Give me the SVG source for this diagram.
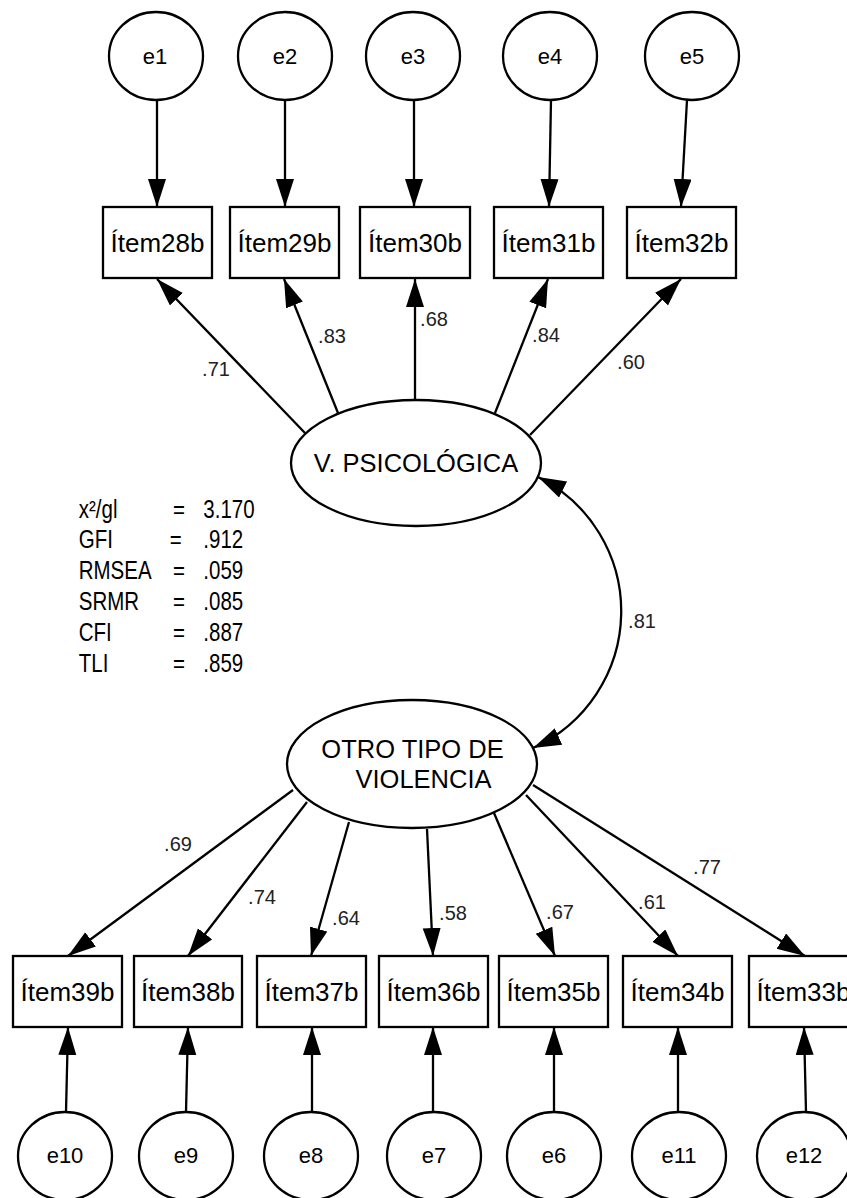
<svg xmlns="http://www.w3.org/2000/svg" width="847" height="1198" viewBox="0 0 847 1198">
<style>
.shape{fill:#fff;stroke:#000;stroke-width:2.3}
.conn{fill:none;stroke:#000;stroke-width:2.3}
.t{font-family:"Liberation Sans",Arial,sans-serif;fill:#000;text-anchor:middle}
.e{font-size:22px}
.item{font-size:26px}
.lat{font-size:25.5px}
.lbl{font-family:"Liberation Sans",Arial,sans-serif;font-size:20px;fill:#222;text-anchor:middle}
.fit{font-family:"Liberation Sans",Arial,sans-serif;font-size:25px;fill:#000}
</style>
<defs>
<marker id="arr" markerUnits="userSpaceOnUse" markerWidth="30" markerHeight="20" refX="28" refY="9" orient="auto-start-reverse" viewBox="0 0 30 20">
<path d="M0,0 L28,9 L0,18 z" fill="#000"/>
</marker>
</defs>
<rect width="847" height="1198" fill="#fff"/>

<g id="connectors">
<line class="conn" x1="157" y1="100" x2="157" y2="207" marker-end="url(#arr)"/>
<line class="conn" x1="285" y1="100" x2="285" y2="207" marker-end="url(#arr)"/>
<line class="conn" x1="414" y1="100" x2="414" y2="207" marker-end="url(#arr)"/>
<line class="conn" x1="551" y1="100" x2="549" y2="207" marker-end="url(#arr)"/>
<line class="conn" x1="687" y1="100" x2="681" y2="207" marker-end="url(#arr)"/>
<line class="conn" x1="305" y1="433" x2="157" y2="279" marker-end="url(#arr)"/>
<line class="conn" x1="338" y1="413" x2="284" y2="279" marker-end="url(#arr)"/>
<line class="conn" x1="415" y1="399" x2="415" y2="279" marker-end="url(#arr)"/>
<line class="conn" x1="495" y1="413" x2="548" y2="279" marker-end="url(#arr)"/>
<line class="conn" x1="530" y1="435" x2="681" y2="279" marker-end="url(#arr)"/>
<path class="conn" d="M538,477 A150,150 0 0 1 533,748" marker-start="url(#arr)" marker-end="url(#arr)"/>
<line class="conn" x1="293" y1="790" x2="68" y2="956" marker-end="url(#arr)"/>
<line class="conn" x1="307" y1="802" x2="188" y2="956" marker-end="url(#arr)"/>
<line class="conn" x1="349" y1="822" x2="311" y2="956" marker-end="url(#arr)"/>
<line class="conn" x1="427" y1="829" x2="433" y2="956" marker-end="url(#arr)"/>
<line class="conn" x1="494" y1="813" x2="555" y2="956" marker-end="url(#arr)"/>
<line class="conn" x1="526" y1="795" x2="678" y2="956" marker-end="url(#arr)"/>
<line class="conn" x1="533" y1="785" x2="805" y2="956" marker-end="url(#arr)"/>
<line class="conn" x1="66" y1="1112" x2="68" y2="1027" marker-end="url(#arr)"/>
<line class="conn" x1="186" y1="1112" x2="188" y2="1027" marker-end="url(#arr)"/>
<line class="conn" x1="312" y1="1112" x2="312" y2="1027" marker-end="url(#arr)"/>
<line class="conn" x1="433" y1="1112" x2="433" y2="1027" marker-end="url(#arr)"/>
<line class="conn" x1="554" y1="1112" x2="554" y2="1027" marker-end="url(#arr)"/>
<line class="conn" x1="678" y1="1112" x2="678" y2="1027" marker-end="url(#arr)"/>
<line class="conn" x1="806" y1="1112" x2="804" y2="1027" marker-end="url(#arr)"/>
<text class="lbl" x="216" y="376">.71</text>
<text class="lbl" x="332" y="343">.83</text>
<text class="lbl" x="434" y="326">.68</text>
<text class="lbl" x="546" y="342">.84</text>
<text class="lbl" x="631" y="369">.60</text>
<text class="lbl" x="642" y="628">.81</text>
<text class="lbl" x="178" y="851">.69</text>
<text class="lbl" x="262" y="904">.74</text>
<text class="lbl" x="346" y="925">.64</text>
<text class="lbl" x="453" y="920">.58</text>
<text class="lbl" x="560" y="919">.67</text>
<text class="lbl" x="652" y="909">.61</text>
<text class="lbl" x="707" y="874">.77</text>
</g>

<g id="e1"><ellipse class="shape" cx="156" cy="56" rx="47" ry="44"/><text class="t e" x="155" y="64">e1</text></g>
<g id="e2"><ellipse class="shape" cx="285" cy="56" rx="47" ry="44"/><text class="t e" x="285" y="64">e2</text></g>
<g id="e3"><ellipse class="shape" cx="413" cy="56" rx="47" ry="44"/><text class="t e" x="413" y="64">e3</text></g>
<g id="e4"><ellipse class="shape" cx="550" cy="56" rx="47" ry="44"/><text class="t e" x="550" y="64">e4</text></g>
<g id="e5"><ellipse class="shape" cx="692" cy="56" rx="47" ry="44"/><text class="t e" x="692" y="64">e5</text></g>

<g id="item28b"><rect class="shape" x="103" y="207" width="109" height="71"/><text class="t item" x="157.5" y="252">Ítem28b</text></g>
<g id="item29b"><rect class="shape" x="230" y="207" width="109" height="71"/><text class="t item" x="284.5" y="252">Ítem29b</text></g>
<g id="item30b"><rect class="shape" x="360" y="207" width="110" height="71"/><text class="t item" x="415" y="252">Ítem30b</text></g>
<g id="item31b"><rect class="shape" x="494" y="207" width="109" height="71"/><text class="t item" x="548.5" y="252">Ítem31b</text></g>
<g id="item32b"><rect class="shape" x="627" y="207" width="109" height="71"/><text class="t item" x="681.5" y="252">Ítem32b</text></g>

<g id="vpsicologica"><ellipse class="shape" cx="416" cy="463" rx="125" ry="63"/><text class="t lat" x="416" y="472">V. PSICOLÓGICA</text></g>
<g id="otrotipo"><ellipse class="shape" cx="412" cy="764" rx="125" ry="64"/><text class="t lat" x="412.5" y="758">OTRO TIPO DE</text><text class="t lat" x="423.5" y="788">VIOLENCIA</text></g>

<g id="fitstats" transform="scale(0.82,1)">
<text class="fit" x="96" y="518">x²/gl</text><text class="fit" x="211" y="518">=</text><text class="fit" x="248" y="518">3.170</text>
<text class="fit" x="96" y="548">GFI</text><text class="fit" x="207" y="548">=</text><text class="fit" x="248" y="548">.912</text>
<text class="fit" x="96" y="579">RMSEA</text><text class="fit" x="211" y="579">=</text><text class="fit" x="248" y="579">.059</text>
<text class="fit" x="96" y="610">SRMR</text><text class="fit" x="211" y="610">=</text><text class="fit" x="248" y="610">.085</text>
<text class="fit" x="96" y="641">CFI</text><text class="fit" x="211" y="641">=</text><text class="fit" x="248" y="641">.887</text>
<text class="fit" x="96" y="672">TLI</text><text class="fit" x="211" y="672">=</text><text class="fit" x="248" y="672">.859</text>
</g>

<g id="item39b"><rect class="shape" x="13" y="956" width="109" height="71"/><text class="t item" x="67.5" y="1001">Ítem39b</text></g>
<g id="item38b"><rect class="shape" x="134" y="956" width="108" height="71"/><text class="t item" x="188" y="1001">Ítem38b</text></g>
<g id="item37b"><rect class="shape" x="257" y="956" width="109" height="71"/><text class="t item" x="311.5" y="1001">Ítem37b</text></g>
<g id="item36b"><rect class="shape" x="379" y="956" width="109" height="71"/><text class="t item" x="433.5" y="1001">Ítem36b</text></g>
<g id="item35b"><rect class="shape" x="499" y="956" width="109" height="71"/><text class="t item" x="553.5" y="1001">Ítem35b</text></g>
<g id="item34b"><rect class="shape" x="623" y="956" width="109" height="71"/><text class="t item" x="677.5" y="1001">Ítem34b</text></g>
<g id="item33b"><rect class="shape" x="749" y="956" width="109" height="71"/><text class="t item" x="803.5" y="1001">Ítem33b</text></g>

<g id="e10"><ellipse class="shape" cx="65" cy="1156" rx="47" ry="44"/><text class="t e" x="65" y="1163">e10</text></g>
<g id="e9"><ellipse class="shape" cx="186" cy="1156" rx="47" ry="44"/><text class="t e" x="186" y="1163">e9</text></g>
<g id="e8"><ellipse class="shape" cx="311" cy="1156" rx="47" ry="44"/><text class="t e" x="311" y="1163">e8</text></g>
<g id="e7"><ellipse class="shape" cx="434" cy="1156" rx="47" ry="44"/><text class="t e" x="434" y="1163">e7</text></g>
<g id="e6"><ellipse class="shape" cx="554" cy="1156" rx="47" ry="44"/><text class="t e" x="554" y="1163">e6</text></g>
<g id="e11"><ellipse class="shape" cx="679" cy="1156" rx="47" ry="44"/><text class="t e" x="679" y="1163">e11</text></g>
<g id="e12"><ellipse class="shape" cx="804" cy="1156" rx="47" ry="44"/><text class="t e" x="804" y="1163">e12</text></g>
</svg>
